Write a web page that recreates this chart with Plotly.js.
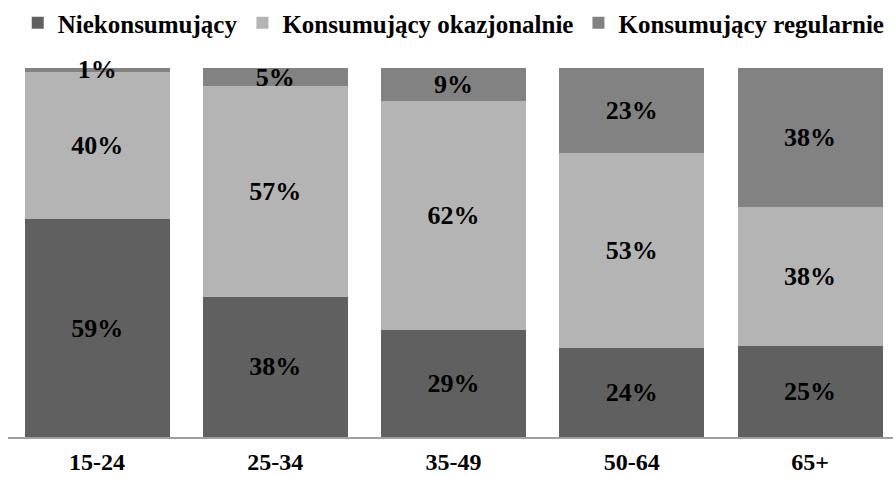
<!DOCTYPE html>
<html>
<head>
<meta charset="utf-8">
<script src="https://cdn.plot.ly/plotly-3.0.1.min.js"></script>
<style>html,body{margin:0;padding:0;background:#fff;}#chart{width:893px;height:477px;}</style>
</head>
<body>
<div id="chart"></div>
<script>
const categories = ["15-24", "25-34", "35-49", "50-64", "65+"];
const seriesNames = ["Niekonsumujący", "Konsumujący okazjonalnie", "Konsumujący regularnie"];
const niekonsumujacy = [59, 38, 29, 24, 25];
const okazjonalnie = [40, 57, 62, 53, 38];
const regularnie = [1, 5, 9, 23, 38];
const colors = ["#606060", "#b4b4b4", "#828282"];

const font = "Liberation Serif, Times New Roman, serif";
function mk(name, vals, color) {
  return {
    type: "bar",
    name: name,
    x: categories,
    y: vals,
    marker: {color: color, line: {width: 0}},
    text: vals.map(v => "<b>" + v + "%</b>"),
    textposition: "inside",
    insidetextanchor: "middle",
    constraintext: "none",
    textangle: 0,
    cliponaxis: false,
    textfont: {family: font, size: 26, color: "#000"},
    hoverinfo: "skip"
  };
}
const data = [
  mk(seriesNames[0], niekonsumujacy, colors[0]),
  mk(seriesNames[1], okazjonalnie, colors[1]),
  mk(seriesNames[2], regularnie, colors[2])
];
const layout = {
  width: 893, height: 477,
  margin: {l: 8, r: 0, t: 68, b: 40},
  barmode: "stack",
  barnorm: "percent",
  bargap: 0.187,
  paper_bgcolor: "#fff", plot_bgcolor: "#fff",
  showlegend: true,
  legend: {
    orientation: "h", x: 0.011, xanchor: "left", y: 1.185, yanchor: "top",
    font: {family: font, size: 25, color: "#000", weight: "bold"},
    itemwidth: 30, traceorder: "normal", tracegroupgap: 0
  },
  xaxis: {
    range: [-0.5, 4.465],
    showline: true, linecolor: "#a0a0a0", linewidth: 1.5,
    ticks: "", ticklabelstandoff: 3,
    tickfont: {family: font, size: 24, color: "#000", weight: "bold"},
    showgrid: false, zeroline: false, fixedrange: true
  },
  yaxis: {
    range: [0, 100], visible: false, showgrid: false, zeroline: false, fixedrange: true
  }
};
Plotly.newPlot("chart", data, layout, {staticPlot: true, displayModeBar: false});
</script>
</body>
</html>
